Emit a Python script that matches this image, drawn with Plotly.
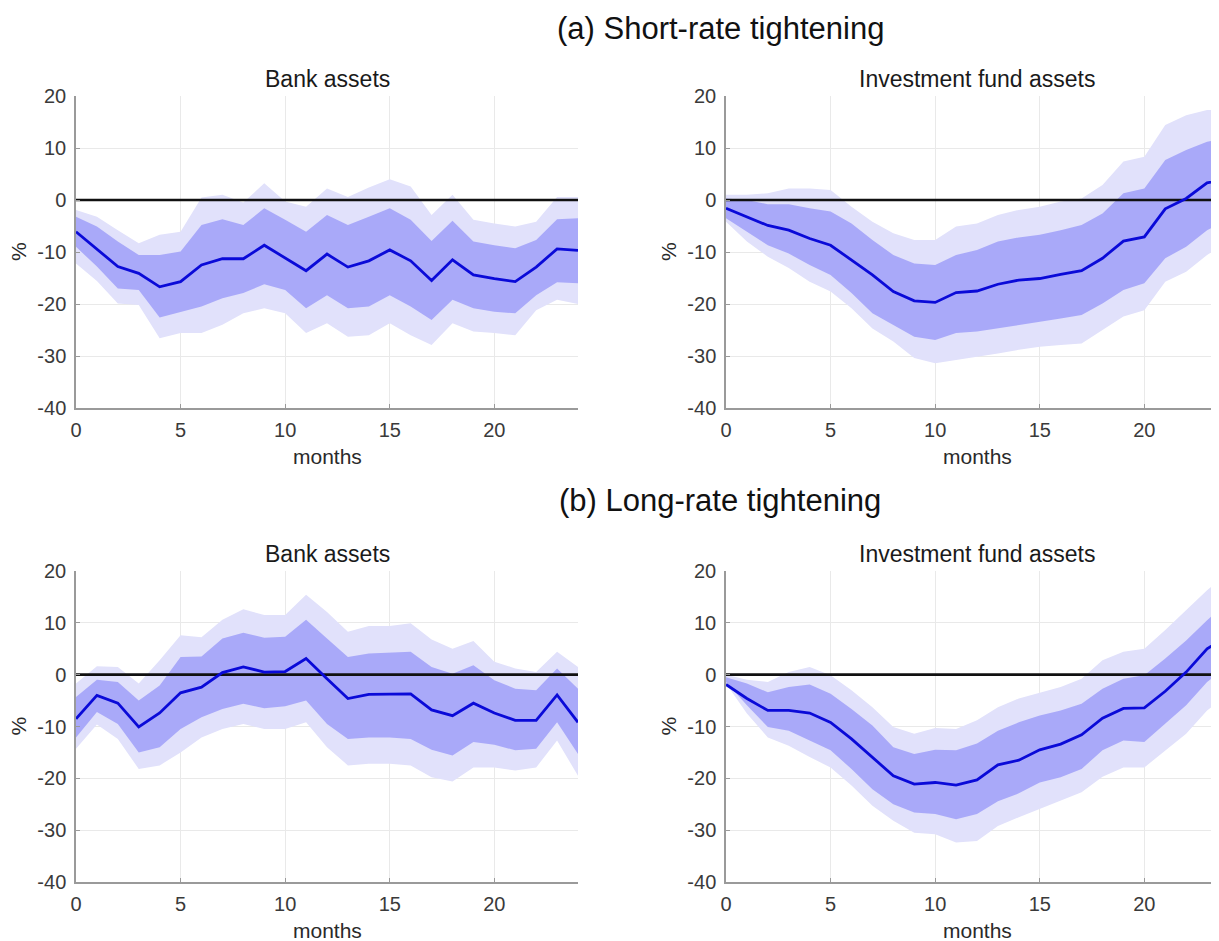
import plotly.graph_objects as go

months = list(range(25))
zero_line = [0] * 25

# (a) Short-rate tightening - Bank assets
p1_med = [-6.1,-9.5,-12.8,-14.1,-16.7,-15.7,-12.5,-11.3,-11.3,-8.7,-11.1,-13.6,-10.4,-12.9,-11.7,-9.6,-11.7,-15.5,-11.5,-14.4,-15.1,-15.7,-12.9,-9.4,-9.7]
p1_d_up = [-3.2,-5.1,-8,-10.6,-10.6,-9.9,-4.8,-3.7,-4.8,-1.6,-3.8,-6.1,-2.9,-4.8,-3.2,-1.6,-3.8,-7.9,-4,-8,-8.7,-9.3,-7.7,-3.7,-3.5]
p1_d_lo = [-9,-12.8,-17,-17.3,-22.6,-21.6,-20.5,-18.9,-17.9,-16.2,-17.3,-20.8,-18.3,-20.8,-20.5,-18.3,-20.5,-23.1,-19.2,-20.8,-21.5,-21.8,-18.3,-15.8,-16]
p1_l_up = [-1.9,-3.2,-5.8,-8.3,-6.7,-6.1,0.5,1,-0.5,3.2,-0.3,-1.3,2.2,0.6,2.4,4.0,2.6,-2.9,1,-3.8,-4.5,-5.1,-4.2,0.6,0.6]
p1_l_lo = [-12.2,-15.6,-19.9,-20.2,-26.6,-25.6,-25.6,-24,-21.8,-20.8,-21.8,-25.6,-23.7,-26.3,-26,-23.7,-26,-27.9,-23.7,-25.3,-25.6,-26,-21.2,-19.2,-20]

# (a) Short-rate tightening - Investment fund assets
p2_med = [-1.6,-3.2,-4.9,-5.8,-7.4,-8.7,-11.5,-14.4,-17.6,-19.4,-19.7,-17.8,-17.5,-16.2,-15.4,-15.1,-14.3,-13.6,-11.2,-7.9,-7.1,-1.7,0.3,3.3,4.0]
p2_d_up = [0.3,0,-0.8,-0.8,-1.6,-2.2,-4.5,-7.7,-10.6,-12.2,-12.5,-10.6,-9.6,-8,-7.2,-6.7,-5.8,-4.8,-2.6,1.3,2.2,7.7,9.6,11.2,11.9]
p2_d_lo = [-3.5,-6.1,-8.7,-10.3,-12.5,-14.4,-17.9,-21.8,-24,-26.3,-26.9,-25.6,-25.3,-24.7,-24,-23.4,-22.8,-22.1,-19.9,-17.3,-16,-11.2,-9,-5.8,-3.8]
p2_l_up = [1,1,1.3,2.2,2.2,1.9,-1.3,-4.2,-6.4,-7.7,-7.7,-5.1,-4.5,-2.9,-1.9,-1.3,-0.3,0.3,2.9,7.4,8.3,14.4,16.3,17.3,17.3]
p2_l_lo = [-4.2,-8,-10.9,-13.1,-15.7,-17.6,-20.8,-24.7,-27.2,-30.4,-31.4,-30.8,-30.1,-29.5,-28.8,-28.2,-27.9,-27.6,-25,-22.4,-21.2,-15.7,-13.8,-10.6,-8]

# (b) Long-rate tightening - Bank assets
p3_med = [-8.5,-4,-5.5,-10.1,-7.4,-3.5,-2.4,0.4,1.5,0.5,0.6,3.1,-0.8,-4.6,-3.8,-3.7,-3.7,-6.8,-7.9,-5.5,-7.4,-8.8,-8.8,-3.9,-9.2]
p3_d_up = [-4.3,-1,-1.4,-5,-2.1,3.4,3.5,7,8.1,7.1,7.3,10.6,7,3.4,4.1,4.2,4.4,1.5,0.2,1.8,-1.1,-2.7,-3,1.2,-2.7]
p3_d_lo = [-12.1,-7.2,-9.5,-15,-14,-10.5,-8.2,-6.6,-5.6,-6.5,-6.1,-5,-9.5,-12.4,-12.1,-12.1,-12.4,-14.5,-15.6,-13,-13.5,-14.6,-14.3,-9.2,-15.3]
p3_l_up = [-1.7,1.6,1.5,-1.7,2.8,7.6,7.2,10.6,12.6,11.5,11.5,15.4,12.1,8.3,9.4,9.4,9.9,6.8,5,6.5,2.5,1.2,0.5,4.4,1.5]
p3_l_lo = [-14.3,-9.6,-12.4,-18.2,-17.5,-15,-12.1,-10.5,-9.5,-10.5,-10.5,-9.2,-14,-17.5,-17.2,-17.2,-17.5,-19.8,-20.6,-17.9,-17.9,-18.5,-17.9,-12.7,-19.5]

# (b) Long-rate tightening - Investment fund assets
p4_med = [-1.9,-4.6,-6.9,-6.9,-7.4,-9.2,-12.4,-15.9,-19.5,-21.1,-20.8,-21.3,-20.3,-17.4,-16.5,-14.5,-13.4,-11.6,-8.4,-6.5,-6.4,-3.2,0.5,5,7.5]
p4_d_up = [-0.5,-1.7,-3.4,-2.4,-1.9,-3.7,-6.6,-9.8,-14,-15.3,-14.5,-14.6,-13.3,-10.8,-9.2,-7.9,-6.9,-5.6,-2.7,-0.8,-0.1,3.1,6.6,10.5,14]
p4_d_lo = [-1.4,-5.9,-10.1,-10.8,-12.7,-14.6,-18.2,-22.1,-25,-26.6,-26.9,-27.9,-26.9,-24.4,-22.9,-20.8,-19.8,-18.2,-14.6,-12.7,-13,-9.5,-5.9,-1.4,1.5]
p4_l_up = [0,-1,-1.4,0.5,1.5,-0.1,-3,-6.3,-10.1,-11.4,-10.3,-10.5,-8.8,-6.3,-4.6,-3.5,-2.4,-0.8,2.8,4.4,5,8.6,12.5,16.3,19.5]
p4_l_lo = [-1.7,-7.5,-12.1,-13.7,-15.9,-17.9,-21.4,-25.3,-28.2,-30.5,-30.8,-32.4,-32.1,-29.2,-27.5,-25.9,-24.3,-22.7,-19.7,-17.9,-17.9,-14.6,-11.4,-6.9,-4]

panel_titles = ["Bank assets", "Investment fund assets", "Bank assets", "Investment fund assets"]
section_titles = ["(a) Short-rate tightening", "(b) Long-rate tightening"]
y_ticks = [-40, -30, -20, -10, 0, 10, 20]
y_tick_labels = ["-40", "-30", "-20", "-10", "0", "10", "20"]
x_ticks = [0, 5, 10, 15, 20]
x_tick_labels = ["0", "5", "10", "15", "20"]

panels = [
    (p1_med, p1_d_up, p1_d_lo, p1_l_up, p1_l_lo),
    (p2_med, p2_d_up, p2_d_lo, p2_l_up, p2_l_lo),
    (p3_med, p3_d_up, p3_d_lo, p3_l_up, p3_l_lo),
    (p4_med, p4_d_up, p4_d_lo, p4_l_up, p4_l_lo),
]

# the page adds an 8px body margin; lay out in screen pixels and shift back
OFF = 8
W, H = 1219 - OFF, 941
LIGHT = "#e1e1fb"
DARK = "#a9a9f9"
LINE = "#0a0ad8"


def px(xs):
    return (xs - OFF) / W


def py(ys):
    return 1 - (ys - OFF) / H


# screen-pixel geometry of plot areas (left, right, top, bottom)
boxes = [
    (76, 578, 96, 408),
    (726, 1219, 96, 408),
    (76, 578, 571, 882),
    (726, 1219, 571, 882),
]
px_per_month = (578 - 76) / 24.0

fig = go.Figure()
FONT = "Liberation Sans, Arial, sans-serif"

for i, (med, dup, dlo, lup, llo) in enumerate(panels):
    ax = "" if i == 0 else str(i + 1)
    xa, ya = "x" + ax, "y" + ax
    fig.add_trace(go.Scatter(x=months, y=llo, mode="lines", line=dict(width=0, color=LIGHT),
                             xaxis=xa, yaxis=ya, showlegend=False, hoverinfo="skip"))
    fig.add_trace(go.Scatter(x=months, y=lup, mode="lines", line=dict(width=0, color=LIGHT),
                             fill="tonexty", fillcolor=LIGHT,
                             xaxis=xa, yaxis=ya, showlegend=False, hoverinfo="skip"))
    fig.add_trace(go.Scatter(x=months, y=dlo, mode="lines", line=dict(width=0, color=DARK),
                             xaxis=xa, yaxis=ya, showlegend=False, hoverinfo="skip"))
    fig.add_trace(go.Scatter(x=months, y=dup, mode="lines", line=dict(width=0, color=DARK),
                             fill="tonexty", fillcolor=DARK,
                             xaxis=xa, yaxis=ya, showlegend=False, hoverinfo="skip"))
    fig.add_trace(go.Scatter(x=months, y=zero_line, mode="lines", line=dict(width=2.6, color="#111111"),
                             xaxis=xa, yaxis=ya, showlegend=False, hoverinfo="skip"))
    fig.add_trace(go.Scatter(x=months, y=med, mode="lines", line=dict(width=2.8, color=LINE),
                             xaxis=xa, yaxis=ya, showlegend=False))

    l, r, t, b = boxes[i]
    xmax = (r - l) / px_per_month
    axis_common = dict(showline=True, linecolor="#9a9a9a", linewidth=1.5,
                       ticks="inside", ticklen=4, tickcolor="#9a9a9a", automargin=False,
                       showgrid=True, gridcolor="#e9e9e9", gridwidth=1, zeroline=False,
                       tickfont=dict(family=FONT, size=20, color="#3a3a3a"))
    fig.layout["xaxis" + ax] = dict(domain=[px(l), min(1.0, px(r))], range=[0, xmax], anchor=ya,
                                    tickmode="array", tickvals=x_ticks, ticktext=x_tick_labels,
                                    ticklabelstandoff=3, **axis_common)
    fig.layout["yaxis" + ax] = dict(domain=[py(b), py(t)], range=[-40, 20], anchor=xa,
                                    tickmode="array", tickvals=y_ticks, ticktext=y_tick_labels,
                                    ticklabelstandoff=4, **axis_common)

    cx = (l + 24 * px_per_month / 2) if i % 2 == 1 else (l + r) / 2
    fig.add_annotation(x=px(cx), y=py(t - 17), xref="paper", yref="paper",
                       text=panel_titles[i], showarrow=False, xanchor="center", yanchor="middle",
                       font=dict(family=FONT, size=23, color="#1a1a1a"))
    fig.add_annotation(x=px(cx), y=py(b + 48), xref="paper", yref="paper",
                       text="months", showarrow=False, xanchor="center", yanchor="middle",
                       font=dict(family=FONT, size=21, color="#2a2a2a"))
    fig.add_annotation(x=px(l - 58), y=py((t + b) / 2), xref="paper", yref="paper",
                       text="%", showarrow=False, xanchor="center", yanchor="middle", textangle=-90,
                       font=dict(family=FONT, size=21, color="#2a2a2a"))

for txt, yy in zip(section_titles, [28, 500]):
    fig.add_annotation(x=px(720), y=py(yy), xref="paper", yref="paper",
                       text=txt, showarrow=False, xanchor="center", yanchor="middle",
                       font=dict(family=FONT, size=31, color="#111111"))

fig.update_layout(width=W, height=H, margin=dict(l=0, r=0, t=0, b=0, autoexpand=False),
                  paper_bgcolor="white", plot_bgcolor="white", showlegend=False)

fig.write_html("out.html")
